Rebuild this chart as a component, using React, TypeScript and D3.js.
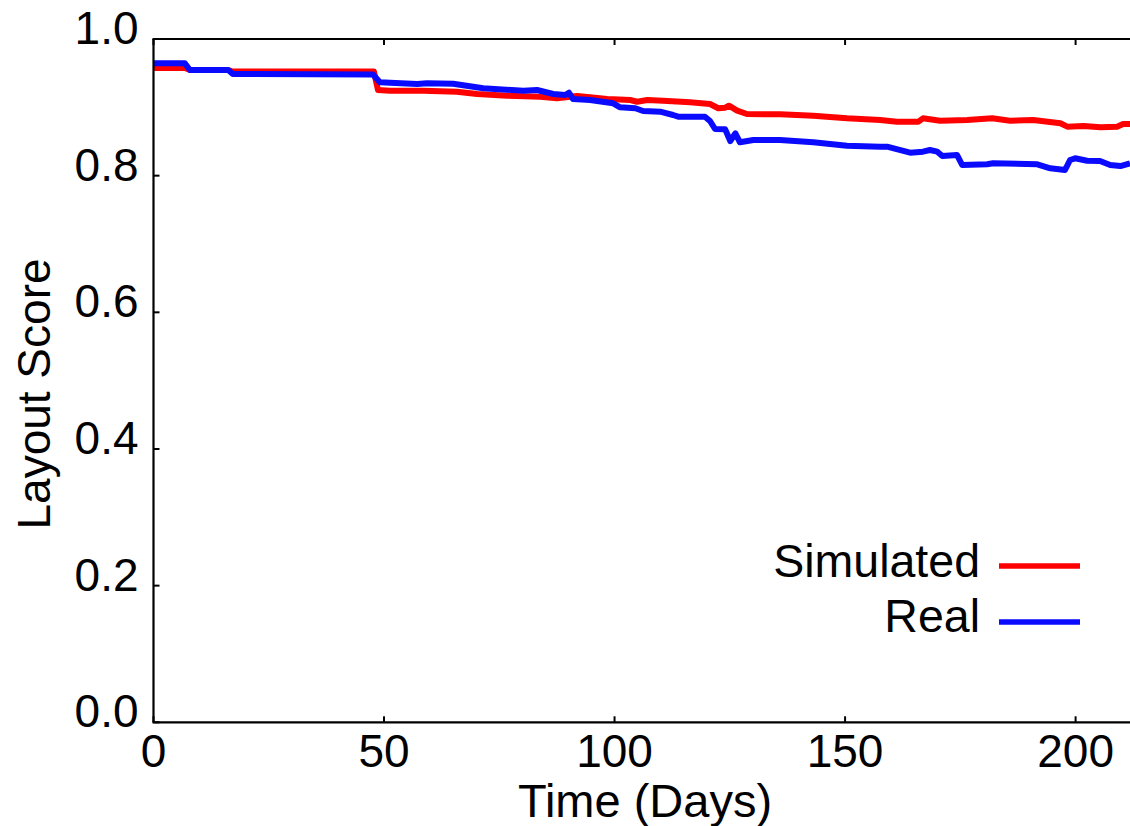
import React from "react";
import * as d3 from "d3";

const simDays = [0, 6.8, 7.9, 16.2, 17.2, 47.8, 48.7, 51.3, 58.5, 65.8, 70.2, 76.7, 83.9, 87.5, 91.9, 98.4, 103.4, 104.9, 107.1, 110.5, 116.4, 120.7, 122.5, 124.0, 124.8, 126.6, 128.7, 135.9, 143.1, 150.4, 157.6, 161.3, 165.9, 166.9, 170.6, 176.5, 181.9, 185.8, 190.8, 196.7, 198.2, 201.7, 205.4, 209.0, 210.3, 211.8];
const simValues = [0.9576, 0.9576, 0.9546, 0.9546, 0.9524, 0.9524, 0.9253, 0.9243, 0.9243, 0.9229, 0.9195, 0.917, 0.9156, 0.9132, 0.9166, 0.9122, 0.9107, 0.9082, 0.9107, 0.9097, 0.9074, 0.9049, 0.8986, 0.8995, 0.9024, 0.8951, 0.8902, 0.8898, 0.8878, 0.8839, 0.8814, 0.879, 0.879, 0.8839, 0.8804, 0.8815, 0.8839, 0.8804, 0.8815, 0.8766, 0.8717, 0.8727, 0.8708, 0.8717, 0.8757, 0.8757];

const realDays = [0, 6.8, 7.9, 16.2, 17.2, 47.6, 49.1, 51.3, 57.2, 59.3, 65.0, 71.5, 80.2, 83.2, 86.7, 89.3, 90.1, 91.0, 94.7, 99.7, 101.2, 104.5, 106.2, 109.9, 112.7, 113.8, 119.6, 120.7, 121.8, 124.0, 125.1, 126.2, 127.2, 130.1, 135.9, 143.1, 150.4, 157.6, 159.1, 164.1, 166.9, 168.4, 170.0, 171.1, 174.3, 175.4, 180.8, 182.1, 191.7, 194.5, 197.7, 198.8, 199.9, 202.5, 205.3, 207.5, 209.7, 211.8];
const realValues = [0.9644, 0.9644, 0.9546, 0.9546, 0.9488, 0.948, 0.9366, 0.936, 0.9341, 0.9352, 0.9346, 0.9278, 0.9243, 0.9254, 0.9195, 0.918, 0.9214, 0.9122, 0.9107, 0.9059, 0.9, 0.8986, 0.8946, 0.8936, 0.8888, 0.8863, 0.8863, 0.88, 0.8683, 0.8678, 0.8507, 0.862, 0.8488, 0.8522, 0.8522, 0.8488, 0.8438, 0.8424, 0.8424, 0.8336, 0.8351, 0.8375, 0.8351, 0.8288, 0.8302, 0.8156, 0.8166, 0.8181, 0.8166, 0.8108, 0.8083, 0.8229, 0.8254, 0.8219, 0.8215, 0.8156, 0.8141, 0.8181];

const xTicks = [0, 50, 100, 150, 200];
const yTicks = [0, 0.2, 0.4, 0.6, 0.8, 1.0];
const yTickLabels = ["0.0", "0.2", "0.4", "0.6", "0.8", "1.0"];
const seriesNames = ["Simulated", "Real"];
const seriesColors = ["#ff0000", "#0a0aff"];

const W = 1130;
const H = 826;
const left = 153.5;
const right = 1130;
const top = 39;
const bottom = 722.3;
const FONT = "Liberation Sans, Arial, sans-serif";

export default function App() {
  const x = d3.scaleLinear().domain([0, 211.8]).range([left, right]);
  const y = d3.scaleLinear().domain([0, 1]).range([bottom, top]);
  const line = d3
    .line<[number, number]>()
    .x((d) => x(d[0]))
    .y((d) => y(d[1]));

  const sim: [number, number][] = simDays.map((d, i) => [d, simValues[i]]);
  const real: [number, number][] = realDays.map((d, i) => [d, realValues[i]]);
  const series = [sim, real];

  return (
    <svg
      width={W}
      height={H}
      style={{ position: "absolute", left: 0, top: 0, background: "#fff" }}
      fontFamily={FONT}
    >
      <rect x={0} y={0} width={W} height={H} fill="#fff" />
      <defs>
        <clipPath id="plotclip">
          <rect x={left} y={top - 5} width={right - left + 5} height={bottom - top + 10} />
        </clipPath>
      </defs>
      <g clipPath="url(#plotclip)">
        {series.map((s, i) => (
          <path
            key={i}
            d={line(s) || ""}
            fill="none"
            stroke={seriesColors[i]}
            strokeWidth={6}
            strokeLinejoin="round"
          />
        ))}
      </g>
      {/* spines */}
      <line x1={left} x2={left} y1={top} y2={bottom} stroke="#000" strokeWidth={2.2} />
      <line x1={left - 1} x2={W} y1={bottom} y2={bottom} stroke="#000" strokeWidth={2.2} />
      <line x1={left - 1} x2={W} y1={top} y2={top} stroke="#000" strokeWidth={2.2} />
      {/* x ticks */}
      {xTicks.map((t) => (
        <g key={"x" + t}>
          <line x1={x(t)} x2={x(t)} y1={bottom} y2={bottom - 6} stroke="#000" strokeWidth={2} />
          <line x1={x(t)} x2={x(t)} y1={top} y2={top + 6} stroke="#000" strokeWidth={2} />
          <text x={x(t)} y={bottom + 45} fontSize={46} textAnchor="middle" fill="#000">
            {String(t)}
          </text>
        </g>
      ))}
      {/* y ticks */}
      {yTicks.map((t, i) => (
        <g key={"y" + t}>
          <line x1={left} x2={left + 6} y1={y(t)} y2={y(t)} stroke="#000" strokeWidth={2} />
          <text x={left - 15} y={y(t) + 5} fontSize={46} textAnchor="end" fill="#000">
            {yTickLabels[i]}
          </text>
        </g>
      ))}
      {/* axis labels */}
      <text x={645} y={817} fontSize={47} textAnchor="middle" fill="#000">
        Time (Days)
      </text>
      <text
        transform={`translate(50, 394) rotate(-90)`}
        fontSize={46}
        textAnchor="middle"
        fill="#000"
      >
        Layout Score
      </text>
      {/* legend */}
      {seriesNames.map((n, i) => (
        <g key={n}>
          <text x={980} y={577 + i * 55} fontSize={46.5} textAnchor="end" fill="#000">
            {n}
          </text>
          <line
            x1={999}
            x2={1080}
            y1={566 + i * 56}
            y2={566 + i * 56}
            stroke={seriesColors[i]}
            strokeWidth={5.5}
          />
        </g>
      ))}
    </svg>
  );
}
